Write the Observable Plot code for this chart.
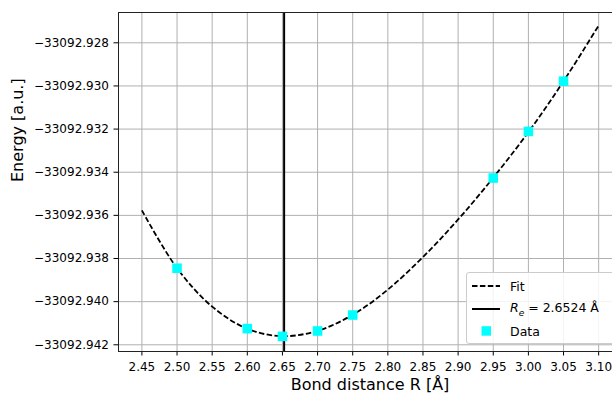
<!DOCTYPE html>
<html>
<head>
<meta charset="utf-8">
<script src="https://cdn.jsdelivr.net/npm/d3@7"></script>
<script src="https://cdn.jsdelivr.net/npm/@observablehq/plot@0.6"></script>
<style>
  html, body { margin: 0; padding: 0; background: #fff; overflow: hidden; }
  #wrap { position: relative; width: 612px; height: 395px; overflow: hidden; font-family: "DejaVu Sans", sans-serif; }
  #legend { position: absolute; left: 466px; top: 272px; width: 160px; height: 70px;
    border: 1px solid #cccccc; border-radius: 3px; background: rgba(255,255,255,0.85);
    font-size: 12.5px; color: #000; }
  .row { position: absolute; left: 0; height: 20px; display: flex; align-items: center; }
  .row svg { margin-left: 5px; }
  .row span { margin-left: 10px; white-space: nowrap; }
</style>
</head>
<body>
<div id="wrap"></div>
<script>
// Fit curve
const fitR = [2.45, 2.50, 2.55, 2.60, 2.65, 2.70, 2.75, 2.80, 2.85, 2.90, 2.95, 3.00, 3.05, 3.10];
const fitE = [-33092.93577, -33092.93845, -33092.94023, -33092.94126, -33092.94160, -33092.94135,
              -33092.94061, -33092.93944, -33092.93793, -33092.93619, -33092.93425, -33092.93214,
              -33092.92978, -33092.92720];
// Data points
const dataR = [2.50, 2.60, 2.65, 2.70, 2.75, 2.95, 3.00, 3.05];
const dataE = [-33092.93845, -33092.94125, -33092.94161, -33092.94136, -33092.94062,
               -33092.93427, -33092.93211, -33092.92978];
// Equilibrium distance
const Re = 2.6524;
// Ticks
const xTicks = [2.45, 2.50, 2.55, 2.60, 2.65, 2.70, 2.75, 2.80, 2.85, 2.90, 2.95, 3.00, 3.05, 3.10];
const yTicks = [-33092.942, -33092.940, -33092.938, -33092.936, -33092.934, -33092.932, -33092.930, -33092.928];

const fit = fitR.map((r, i) => ({r, e: fitE[i]}));
const data = dataR.map((r, i) => ({r, e: dataE[i]}));

const chart = Plot.plot({
  width: 612,
  height: 395,
  marginLeft: 118,
  marginTop: 12,
  marginBottom: 44,
  marginRight: -9,
  style: {fontFamily: "DejaVu Sans, sans-serif", fontSize: "12px", color: "#000", background: "#fff", overflow: "hidden"},
  x: {domain: [2.4167, 3.1325], ticks: xTicks},
  y: {domain: [-33092.942311, -33092.926595], ticks: yTicks},
  marks: [
    Plot.gridX(xTicks, {stroke: "#b0b0b0", strokeOpacity: 1, strokeWidth: 1}),
    Plot.gridY(yTicks, {stroke: "#b0b0b0", strokeOpacity: 1, strokeWidth: 1}),
    Plot.axisX(xTicks, {tickFormat: d3.format(".2f"), tickSize: 4.5, tickPadding: 6, label: null, fontSize: 12}),
    Plot.axisY(yTicks, {tickFormat: d3.format(".3f"), tickSize: 4.5, tickPadding: 5, label: null, fontSize: 12}),
    Plot.line(fit, {x: "r", y: "e", stroke: "#000", strokeWidth: 1.8, strokeDasharray: "5.5,2.4",
      strokeLinecap: "butt", strokeLinejoin: "round", curve: "catmull-rom"}),
    Plot.ruleX([Re], {stroke: "#000", strokeWidth: 2}),
    Plot.dot(data, {x: "r", y: "e", symbol: "square", r: 5.4, fill: "#00ffff", stroke: "none"}),
    Plot.frame({stroke: "#222", strokeWidth: 1}),
    Plot.text(["Energy [a.u.]"], {frameAnchor: "left", dx: -101, rotate: -90, fontSize: 16, fill: "#000"}),
    Plot.text(["Bond distance R [Å]"], {frameAnchor: "bottom", dy: 38, fontSize: 16, fill: "#000"})
  ]
});

const wrap = document.getElementById("wrap");
wrap.appendChild(chart);

const legend = document.createElement("div");
legend.id = "legend";
legend.innerHTML = `
  <div class="row" style="top:3px"><svg width="28" height="10"><line x1="0" y1="5" x2="28" y2="5" stroke="#000" stroke-width="1.8" stroke-dasharray="5.5,2.4"/></svg><span>Fit</span></div>
  <div class="row" style="top:26px"><svg width="28" height="10"><line x1="0" y1="5" x2="28" y2="5" stroke="#000" stroke-width="2"/></svg><span><i>R<sub style="font-size:9px">e</sub></i> = 2.6524 Å</span></div>
  <div class="row" style="top:48px"><svg width="28" height="12"><rect x="9.5" y="1.2" width="9.5" height="9.5" fill="#00ffff"/></svg><span>Data</span></div>
`;
wrap.appendChild(legend);
</script>
</body>
</html>
